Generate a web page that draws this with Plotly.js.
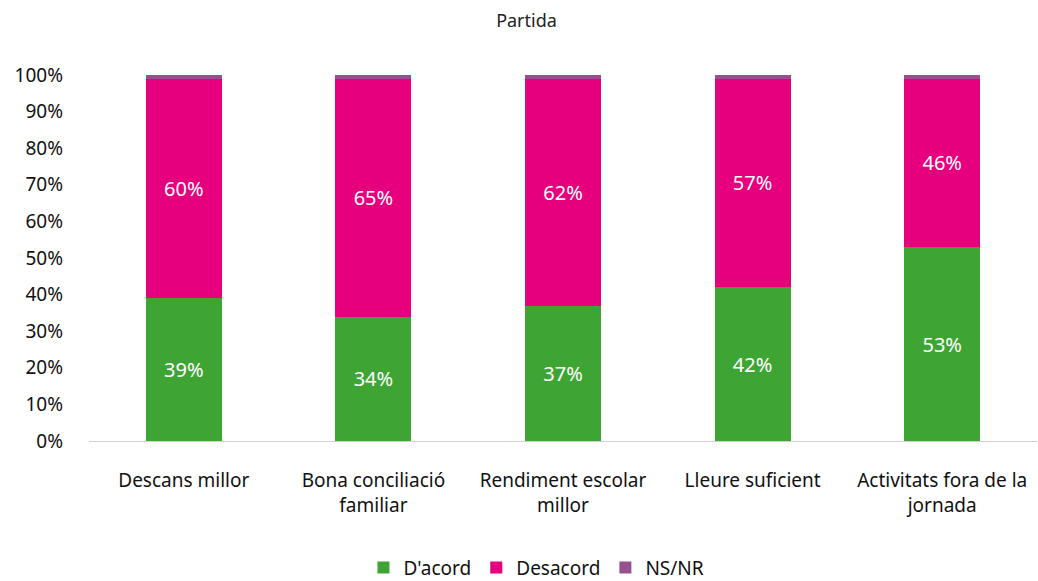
<!DOCTYPE html>
<html><head><meta charset="utf-8">
<script src="https://cdn.plot.ly/plotly-3.0.1.min.js"></script>
<style>html,body{margin:0;padding:0;background:#fff}</style>
</head><body>
<div id="chart" style="width:1038px;height:581px"></div>
<script>
var categories = ["Descans millor", "Bona conciliació<br>familiar", "Rendiment escolar<br>millor", "Lleure suficient", "Activitats fora de la<br>jornada"];
var dacord = [39, 34, 37, 42, 53];
var desacord = [60, 65, 62, 57, 46];
var nsnr = [1, 1, 1, 1, 1];
var tickVals = [0, 10, 20, 30, 40, 50, 60, 70, 80, 90, 100];
var tickText = ["0%", "10%", "20%", "30%", "40%", "50%", "60%", "70%", "80%", "90%", "100%"];

var font = "Noto Sans, Open Sans, sans-serif";
function pct(a){return a.map(function(v){return v + "%";});}
var traces = [
  {type:"bar", name:"D'acord", x:categories, y:dacord, marker:{color:"#3ea535"},
   text:pct(dacord), textposition:"inside", insidetextanchor:"middle", textfont:{color:"#fff", size:20, family:font}, hoverinfo:"y"},
  {type:"bar", name:"Desacord", x:categories, y:desacord, marker:{color:"#e6007e"},
   text:pct(desacord), textposition:"inside", insidetextanchor:"middle", textfont:{color:"#fff", size:20, family:font}, hoverinfo:"y"},
  {type:"bar", name:"NS/NR", x:categories, y:nsnr, marker:{color:"#96508f"}, textposition:"none", hoverinfo:"y"}
];
var layout = {
  width:1038, height:581,
  barmode:"stack", bargap:0.6,
  margin:{l:89, r:1, t:75, b:140, autoexpand:false},
  title:{text:"Partida", font:{family:font, size:18, color:"#222"}, x:0.4615, xanchor:"center", xref:"paper", y:0.965, yanchor:"middle"},
  paper_bgcolor:"#fff", plot_bgcolor:"#fff",
  xaxis:{tickfont:{family:font, size:19, color:"#111"}, showline:true, linecolor:"#d0d0d0", linewidth:1, ticks:"", showgrid:false, ticklabelstandoff:22},
  yaxis:{range:[0,100], tickvals:tickVals, ticktext:tickText, tickfont:{family:font, size:19, color:"#111"}, showgrid:false, zeroline:false, showline:false, ticks:"", ticklabelstandoff:25},
  legend:{orientation:"h", x:0.472, xanchor:"center", y:-0.398, yanchor:"bottom", font:{family:font, size:19, color:"#111"}, traceorder:"normal", itemwidth:30},
  showlegend:true
};
Plotly.newPlot("chart", traces, layout, {displayModeBar:false, staticPlot:true});
</script>
</body></html>
